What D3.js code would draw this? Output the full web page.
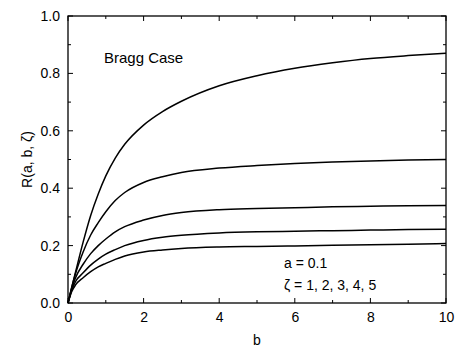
<!DOCTYPE html>
<html>
<head>
<meta charset="utf-8">
<script src="https://cdn.jsdelivr.net/npm/d3@7"></script>
<style>
  body { margin: 0; background: #fff; }
  svg { font-family: 'Liberation Sans', Arial, sans-serif; }
</style>
</head>
<body>
<div id="root"></div>
<script>
const bValues = [0, 0.1, 0.2, 0.4, 0.6, 0.8, 1, 1.25, 1.5, 2, 2.5, 3, 4, 5, 6, 7, 8, 9, 10];
const zeta1 = [0, 0.055, 0.108, 0.212, 0.305, 0.38, 0.443, 0.505, 0.553, 0.62, 0.667, 0.703, 0.757, 0.792, 0.818, 0.837, 0.852, 0.862, 0.870];
const zeta2 = [0, 0.055, 0.103, 0.178, 0.237, 0.28, 0.318, 0.357, 0.385, 0.42, 0.44, 0.455, 0.47, 0.479, 0.486, 0.491, 0.495, 0.498, 0.50];
const zeta3 = [0, 0.05, 0.088, 0.135, 0.172, 0.2, 0.223, 0.248, 0.266, 0.289, 0.305, 0.315, 0.325, 0.329, 0.332, 0.335, 0.337, 0.339, 0.340];
const zeta4 = [0, 0.045, 0.075, 0.105, 0.132, 0.153, 0.17, 0.186, 0.2, 0.218, 0.229, 0.236, 0.244, 0.248, 0.25, 0.252, 0.254, 0.256, 0.257];
const zeta5 = [0, 0.04, 0.063, 0.088, 0.109, 0.126, 0.138, 0.152, 0.164, 0.178, 0.185, 0.19, 0.195, 0.197, 0.199, 0.201, 0.203, 0.205, 0.207];
const seriesList = [zeta1, zeta2, zeta3, zeta4, zeta5];
const xTicks = [0, 2, 4, 6, 8, 10];
const yTicks = [0, 0.2, 0.4, 0.6, 0.8, 1.0];

function drawChart() {
  const dimensions = {
    width: 456,
    height: 349,
    margin: { top: 16, right: 10, bottom: 46, left: 68 },
  };
  dimensions.boundedWidth = dimensions.width - dimensions.margin.left - dimensions.margin.right;
  dimensions.boundedHeight = dimensions.height - dimensions.margin.top - dimensions.margin.bottom;

  const xScale = d3.scaleLinear().domain([0, 10]).range([0, dimensions.boundedWidth]);
  const yScale = d3.scaleLinear().domain([0, 1]).range([dimensions.boundedHeight, 0]);

  const wrapper = d3.select('#root')
    .append('svg')
    .attr('width', dimensions.width)
    .attr('height', dimensions.height);

  const bounds = wrapper.append('g')
    .attr('transform', `translate(${dimensions.margin.left},${dimensions.margin.top})`);

  // frame
  bounds.append('rect')
    .attr('width', dimensions.boundedWidth)
    .attr('height', dimensions.boundedHeight)
    .attr('fill', 'none')
    .attr('stroke', '#000')
    .attr('stroke-width', 1.3);

  const xMinor = d3.range(0, 11, 1);
  const yMinor = d3.range(0, 1.01, 0.1);

  // inward ticks on all four sides
  const tickGroup = bounds.append('g').attr('stroke', '#000').attr('stroke-width', 1);
  xMinor.forEach(v => {
    const len = v % 2 === 0 ? 5 : 3;
    tickGroup.append('line')
      .attr('x1', xScale(v)).attr('x2', xScale(v))
      .attr('y1', dimensions.boundedHeight).attr('y2', dimensions.boundedHeight - len);
    tickGroup.append('line')
      .attr('x1', xScale(v)).attr('x2', xScale(v))
      .attr('y1', 0).attr('y2', len);
  });
  yMinor.forEach((v, i) => {
    const len = i % 2 === 0 ? 5 : 3;
    tickGroup.append('line')
      .attr('y1', yScale(v)).attr('y2', yScale(v))
      .attr('x1', 0).attr('x2', len);
    tickGroup.append('line')
      .attr('y1', yScale(v)).attr('y2', yScale(v))
      .attr('x1', dimensions.boundedWidth).attr('x2', dimensions.boundedWidth - len);
  });

  // axis labels via d3 axes
  const xAxis = d3.axisBottom(xScale).tickValues(xTicks).tickSize(0).tickPadding(9)
    .tickFormat(d3.format('d'));
  const yAxis = d3.axisLeft(yScale).tickValues(yTicks).tickSize(0).tickPadding(8)
    .tickFormat(d3.format('.1f'));

  const xAxisGroup = bounds.append('g')
    .attr('transform', `translate(0,${dimensions.boundedHeight})`)
    .call(xAxis);
  const yAxisGroup = bounds.append('g').call(yAxis);
  xAxisGroup.select('path').remove();
  yAxisGroup.select('path').remove();
  bounds.selectAll('g.tick text')
    .attr('font-size', 14)
    .attr('font-family', "'Liberation Sans', Arial, sans-serif")
    .attr('fill', '#000');

  // curves
  const lineGenerator = d3.line()
    .x((d, i) => xScale(bValues[i]))
    .y(d => yScale(d))
    .curve(d3.curveMonotoneX);

  bounds.append('g')
    .selectAll('path')
    .data(seriesList)
    .join('path')
    .attr('fill', 'none')
    .attr('stroke', '#000')
    .attr('stroke-width', 1.5)
    .attr('d', lineGenerator);

  // annotations
  bounds.append('text')
    .attr('x', 36).attr('y', 47)
    .attr('font-size', 15)
    .text('Bragg Case');
  bounds.append('text')
    .attr('x', 216).attr('y', 252)
    .attr('font-size', 14)
    .text('a = 0.1');
  bounds.append('text')
    .attr('x', 216).attr('y', 274)
    .attr('font-size', 14)
    .text('ζ = 1, 2, 3, 4, 5');

  wrapper.append('text')
    .attr('x', dimensions.margin.left + dimensions.boundedWidth / 2)
    .attr('y', 345)
    .attr('text-anchor', 'middle')
    .attr('font-size', 14)
    .text('b');

  wrapper.append('text')
    .attr('transform', `translate(32,${dimensions.margin.top + dimensions.boundedHeight / 2}) rotate(-90)`)
    .attr('text-anchor', 'middle')
    .attr('font-size', 14)
    .text('R(a, b, ζ)');
}

drawChart();
</script>
</body>
</html>
